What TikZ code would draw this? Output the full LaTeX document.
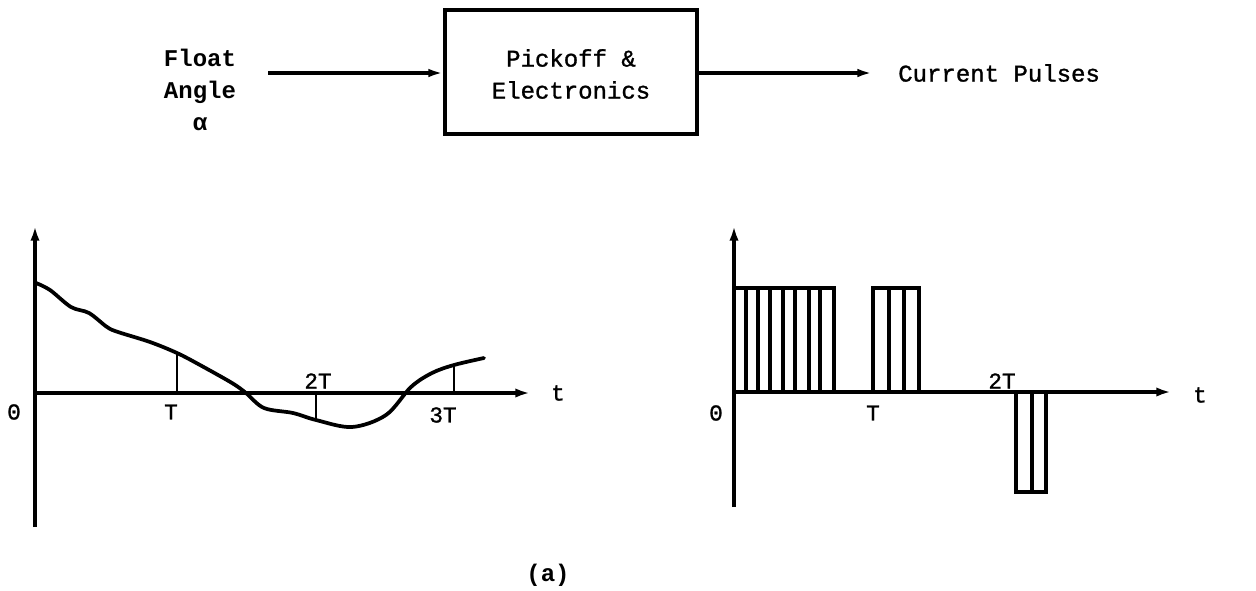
\documentclass[tikz,border=0pt]{standalone}
\usepackage{fontspec}
\setmonofont{Liberation Mono}
\newfontfamily\medmono[FakeBold=1.2]{Liberation Mono}
\usetikzlibrary{arrows.meta}
\begin{document}
\begin{tikzpicture}[x=0.75pt,y=-0.75pt,
  lbl/.style={font=\fontsize{18}{24}\selectfont\medmono, inner sep=0pt, align=center},
  blbl/.style={lbl, font=\fontsize{18}{24}\selectfont\ttfamily\bfseries},
  axl/.style={font=\fontsize{17}{20}\selectfont\medmono, inner sep=0pt},
  axis/.style={line width=2.8pt,-{Latex[length=11pt,width=7pt]}},
  arr/.style={line width=2.6pt,-{Latex[length=11pt,width=6.5pt]}},
  blk/.style={draw, line width=3pt, minimum width=189pt, minimum height=93pt, inner sep=0pt},
  curve/.style={line width=2.8pt, line join=round, line cap=round},
  tick/.style={line width=1.9pt},
  pulse/.style={line width=2.3pt, line join=miter}]
\useasboundingbox (0,0) rectangle (1256,590);

% ---- block diagram ----
\node[blbl] (inp) at (200,90) {Float\\Angle\\α};
\node[blk] (box) at (571,72) {};
\node[lbl] (boxt) at (571,74) {Pickoff \&\\Electronics};
\node[lbl, anchor=west] (outp) at (898,73) {Current Pulses};
\coordinate (a1) at (268,73);
\coordinate (a2) at (872,73);
\draw[arr] (a1) -- (box.west |- a1);
\draw[arr] (box.east |- a2) -- (a2);

% ---- left graph ----
\coordinate (L0) at (35,393);
\coordinate (Lyb) at (35,527);
\coordinate (Lyt) at (35,226);
\coordinate (Lxe) at (530,393);
\draw[axis] (Lyb) -- (Lyt);
\draw[axis] (L0) -- (Lxe);
\draw[curve] plot[smooth, tension=0.55] coordinates {
  (36,283) (50,290) (71,307) (89,313) (107,327) (118,332) (150,342)
  (177,353) (200,365) (232,383) (246,393) (264,408) (293,413) (316,420)
  (352,427) (386,415) (411,387) (432,373) (454,365) (484,358)};
\coordinate (t1a) at (177,393); \coordinate (t1b) at (177,354);
\coordinate (t2a) at (316,393); \coordinate (t2b) at (316,419);
\coordinate (t3a) at (454,393); \coordinate (t3b) at (454,366);
\draw[tick] (t1a) -- (t1b);
\draw[tick] (t2a) -- (t2b);
\draw[tick] (t3a) -- (t3b);
\node[axl] (L0l) at (14,412) {0};
\node[axl] (LT) at (171,412) {T};
\node[axl] (L2T) at (318,381) {2T};
\node[axl] (L3T) at (443,415) {3T};
\node[axl] (Lt) at (558,393) {t};

% ---- right graph ----
\coordinate (R0) at (734,392);
\coordinate (Ryb) at (734,507);
\coordinate (Ryt) at (734,226);
\coordinate (Rxe) at (1171,392);
\draw[axis] (Ryb) -- (Ryt);
\draw[axis] (R0) -- (Rxe);
\draw[pulse] (734,288) -- (834,288) -- (834,392);
\foreach \x in {746,758,770,783,795,809,820}
  \draw[pulse] (\x,392) -- (\x,288);
\draw[pulse] (873,392) -- (873,288) -- (919,288) -- (919,392);
\foreach \x in {889,904}
  \draw[pulse] (\x,392) -- (\x,288);
\draw[pulse] (1016,392) -- (1016,492) -- (1046,492) -- (1046,392);
\draw[pulse] (1032,392) -- (1032,492);
\node[axl] (R0l) at (716,413) {0};
\node[axl] (RT) at (873,413) {T};
\node[axl] (R2T) at (1002,381) {2T};
\node[axl] (Rt) at (1200,395) {t};

\node[blbl] (cap) at (548,575) {(a)};
\end{tikzpicture}
\end{document}
